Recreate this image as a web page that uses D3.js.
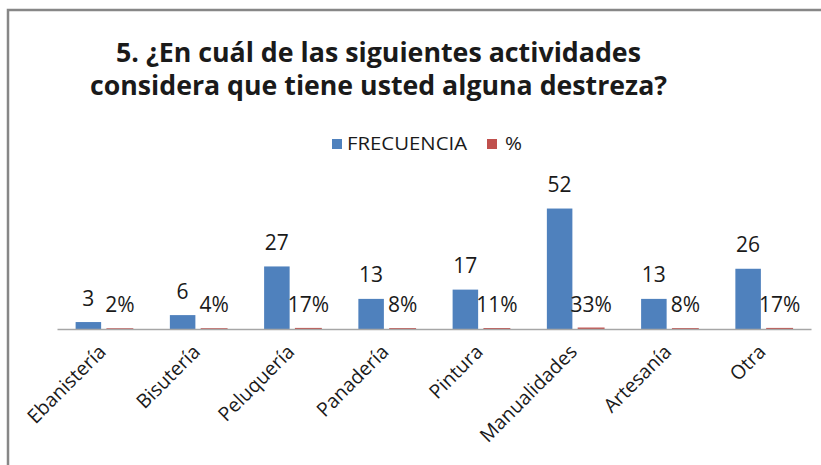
<!DOCTYPE html>
<html>
<head>
<meta charset="utf-8">
<script src="https://cdn.jsdelivr.net/npm/d3@7/dist/d3.min.js"></script>
<style>
  html, body { margin: 0; padding: 0; background: #fff; }
  svg { display: block; }
  text { font-family: "Open Sans", "Liberation Sans", sans-serif; fill: #1a1a1a; }
</style>
</head>
<body>
<svg id="chart" width="821" height="465"></svg>
<script>
const categories = ["Ebanistería", "Bisutería", "Peluquería", "Panadería", "Pintura", "Manualidades", "Artesanía", "Otra"];
const frecuencia = [3, 6, 27, 13, 17, 52, 13, 26];
const porcentaje = [0.02, 0.04, 0.17, 0.08, 0.11, 0.33, 0.08, 0.17];
const seriesNames = ["FRECUENCIA", "%"];
const titleLines = ["5. ¿En cuál de las siguientes actividades", "considera que tiene usted alguna destreza?"];

const colors = { "FRECUENCIA": "#4f81bd", "%": "#c0504d" };
const svg = d3.select("#chart");

// frame
svg.append("rect").attr("x", 8).attr("y", 10).attr("width", 830).attr("height", 470)
  .attr("fill", "none").attr("stroke", "#878787").attr("stroke-width", 2.5);

// title
const titleSpec = [{x: 116, y: 62, w: 525}, {x: 90, y: 95, w: 577}];
titleLines.forEach((t, i) => {
  svg.append("text").attr("x", titleSpec[i].x).attr("y", titleSpec[i].y)
    .attr("font-size", 26.5).attr("font-weight", "bold")
    .attr("textLength", titleSpec[i].w).attr("lengthAdjust", "spacingAndGlyphs")
    .text(t);
});

// legend
const legendSpec = [{sx: 332, tx: 347, w: 120}, {sx: 487, tx: 505, w: 17}];
seriesNames.forEach((s, i) => {
  svg.append("rect").attr("x", legendSpec[i].sx).attr("y", 139).attr("width", 10).attr("height", 10)
    .attr("fill", colors[s]);
  svg.append("text").attr("x", legendSpec[i].tx).attr("y", 150)
    .attr("font-size", 18)
    .attr("textLength", legendSpec[i].w).attr("lengthAdjust", "spacingAndGlyphs")
    .text(s);
});

// scales
const x0 = d3.scaleBand().domain(categories).range([57, 811]).paddingInner(0.395).paddingOuter(0.1975);
const x1 = d3.scaleBand().domain(seriesNames).range([0, x0.bandwidth()]).paddingInner(0.19);
const y = d3.scaleLinear().domain([0, 60]).range([329, 190]);

const rows = categories.map((c, i) => ({ cat: c, values: [
  { s: "FRECUENCIA", v: frecuencia[i], label: String(frecuencia[i]) },
  { s: "%", v: porcentaje[i], label: Math.round(porcentaje[i] * 100) + "%" }
]}));

const g = svg.append("g");
const groups = g.selectAll("g.cat").data(rows).join("g")
  .attr("transform", d => `translate(${x0(d.cat)},0)`);

groups.selectAll("rect").data(d => d.values).join("rect")
  .attr("x", d => x1(d.s))
  .attr("width", x1.bandwidth())
  .attr("y", d => y(d.v))
  .attr("height", d => y(0) - y(d.v))
  .attr("fill", d => colors[d.s])
  .attr("stroke", d => d.s === "%" ? colors[d.s] : "none")
  .attr("stroke-width", 1.4);

groups.selectAll("text").data(d => d.values).join("text")
  .attr("x", d => x1(d.s) + x1.bandwidth() / 2)
  .attr("y", d => y(d.v) - 16.5)
  .attr("text-anchor", "middle")
  .attr("font-size", 21)
  .text(d => d.label);

// axis
const axis = d3.axisBottom(x0).tickSize(0).tickPadding(0);
const ax = svg.append("g").attr("transform", `translate(0,${y(0)})`).call(axis);
ax.select(".domain").attr("stroke", "#a6a6a6").attr("stroke-width", 1.5);
ax.selectAll(".tick text")
  .attr("font-size", 19.5)
  .attr("fill", "#1a1a1a")
  .attr("text-anchor", "end")
  .attr("dy", 0)
  .attr("y", 0)
  .attr("transform", "translate(3,24) rotate(-45)");
</script>
</body>
</html>
